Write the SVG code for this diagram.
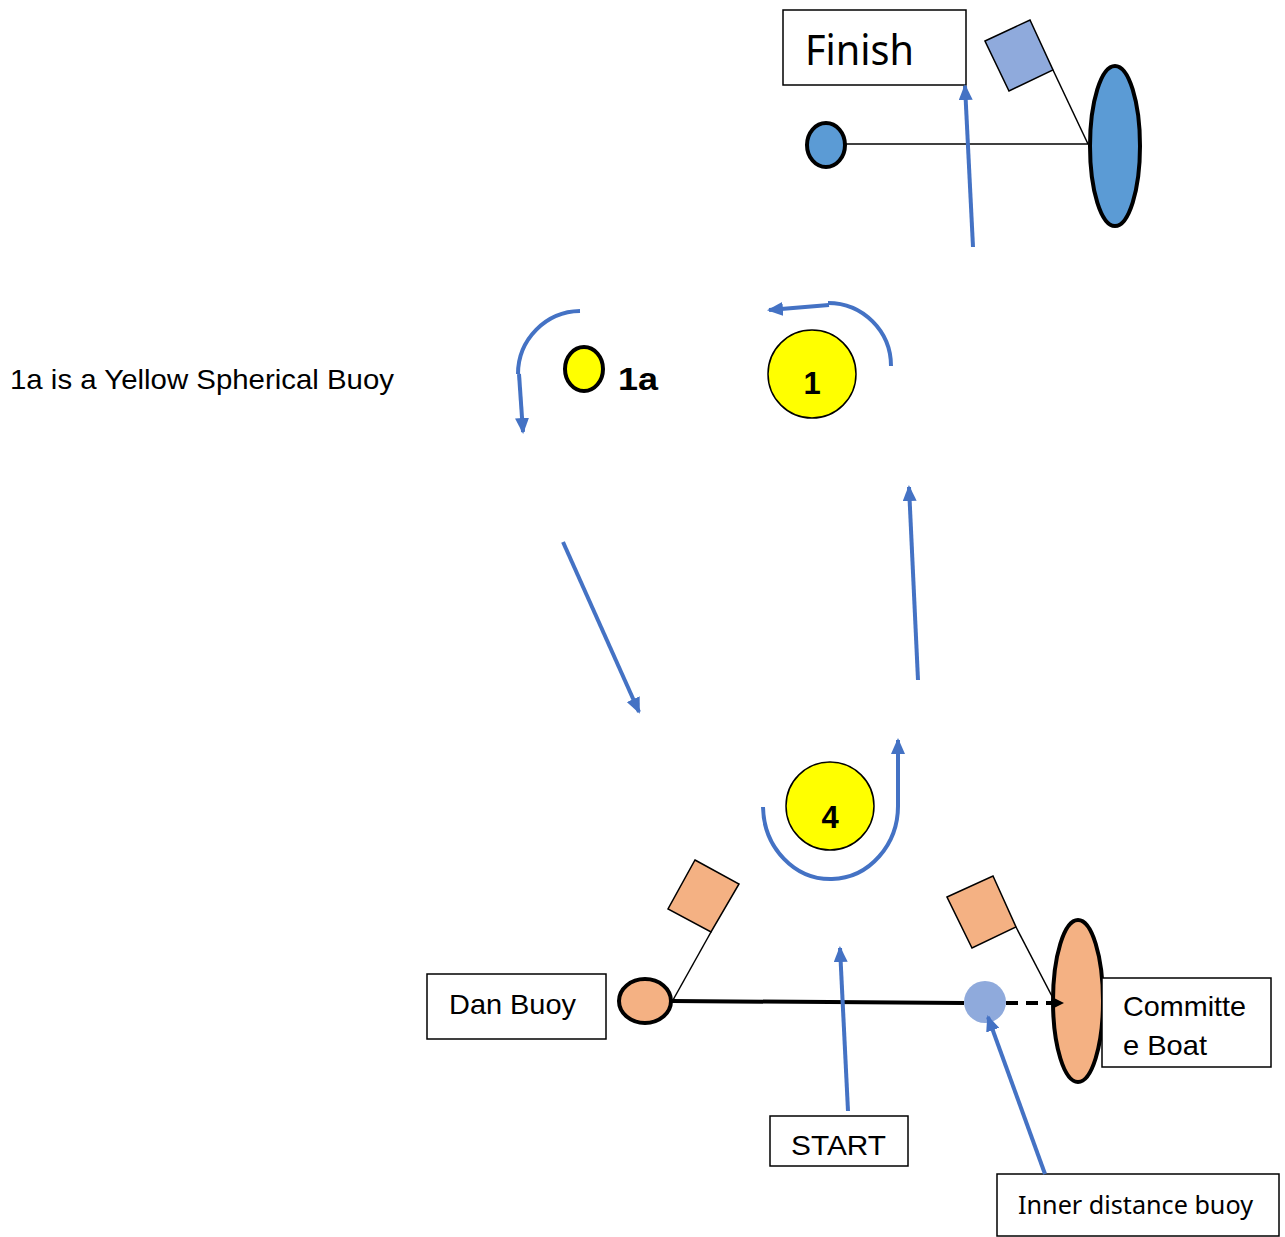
<svg xmlns="http://www.w3.org/2000/svg" width="1285" height="1237" viewBox="0 0 1285 1237">
<style>
.box{fill:#fff;stroke:#000;stroke-width:1.5}
.lbl{font-family:"Liberation Sans",Arial,sans-serif;fill:#000}
.cal{font-family:"Noto Sans","Open Sans",sans-serif;fill:#000}
.bold{font-family:"Liberation Sans",Arial,sans-serif;font-weight:bold;fill:#000}
.route{fill:none;stroke:#4472C4;stroke-width:4}
.mark{fill:#FFFF00;stroke:#000}
.flagB{fill:#8FAADC;stroke:#000;stroke-width:1.5}
.flagO{fill:#F4B183;stroke:#000;stroke-width:1.5}
.thin{stroke:#000;stroke-width:1.5;fill:none}
</style>
<defs>
<marker id="ah" markerUnits="userSpaceOnUse" markerWidth="16" markerHeight="14" refX="14" refY="7" orient="auto">
<path d="M0,0 L16,7 L0,14 Z" fill="#4472C4"/>
</marker>
<marker id="ahk" markerUnits="userSpaceOnUse" markerWidth="12" markerHeight="12" refX="10" refY="6" orient="auto">
<path d="M0,0 L12,6 L0,12 Z" fill="#000"/>
</marker>
</defs>
<rect width="1285" height="1237" fill="#fff"/>

<g id="finish-line">
<line class="thin" x1="846" y1="144" x2="1088" y2="144"/>
<line class="thin" x1="1053" y1="70" x2="1088" y2="144"/>
</g>
<g id="finish-box"><rect class="box" x="783" y="10" width="183" height="75"/><text class="cal" x="805" y="65" font-size="42" textLength="109" lengthAdjust="spacingAndGlyphs">Finish</text></g>
<g id="finish-flag"><polygon class="flagB" points="985,41 1030,20 1053,70 1009,91"/></g>
<g id="finish-boat"><ellipse cx="1115" cy="146" rx="25" ry="80" fill="#5B9BD5" stroke="#000" stroke-width="4"/></g>
<g id="finish-buoy"><ellipse cx="826" cy="145" rx="19" ry="22" fill="#5B9BD5" stroke="#000" stroke-width="4"/></g>

<g id="note"><text class="lbl" x="10" y="389" font-size="28" textLength="384" lengthAdjust="spacingAndGlyphs">1a is a Yellow Spherical Buoy</text></g>
<g id="mark-1a"><ellipse class="mark" cx="584" cy="369" rx="19" ry="22" stroke-width="4"/><text class="bold" x="618" y="390" font-size="32" textLength="40" lengthAdjust="spacingAndGlyphs">1a</text></g>
<g id="mark-1"><circle class="mark" cx="812" cy="374" r="44" stroke-width="1.5"/><text class="bold" x="812" y="394" font-size="31" text-anchor="middle">1</text></g>
<g id="mark-4"><circle class="mark" cx="830" cy="806" r="44" stroke-width="1.5"/><text class="bold" x="830" y="828" font-size="31" text-anchor="middle">4</text></g>

<g id="dan-flag"><polygon class="flagO" points="695,860 739,884 711,932 668,909"/></g>
<g id="dan-buoy"><ellipse cx="645" cy="1001" rx="26" ry="22" fill="#F4B183" stroke="#000" stroke-width="4"/></g>
<g id="dan-box"><rect class="box" x="427" y="974" width="179" height="65"/><text class="lbl" x="449" y="1014" font-size="28.5" textLength="127" lengthAdjust="spacingAndGlyphs">Dan Buoy</text></g>
<g id="committee-flag"><polygon class="flagO" points="947,897 993,876 1016,927 972,948"/></g>
<g id="committee-boat"><ellipse cx="1078" cy="1001" rx="25" ry="81" fill="#F4B183" stroke="#000" stroke-width="4"/></g>
<g id="committee-box"><rect class="box" x="1102" y="978" width="169" height="89"/><text class="lbl" x="1123" y="1016" font-size="28.5" textLength="123" lengthAdjust="spacingAndGlyphs">Committe</text><text class="lbl" x="1123" y="1055" font-size="28.5" textLength="84" lengthAdjust="spacingAndGlyphs">e Boat</text></g>
<g id="start-line">
<line x1="672" y1="1001" x2="964" y2="1003" stroke="#000" stroke-width="4"/>
<line x1="1006" y1="1003" x2="1062" y2="1003" stroke="#000" stroke-width="4" stroke-dasharray="12,8" marker-end="url(#ahk)"/>
<line class="thin" x1="711" y1="932" x2="673" y2="1000"/>
<line class="thin" x1="1016" y1="927" x2="1055" y2="1002"/>
</g>
<g id="inner-buoy"><circle cx="985" cy="1002" r="21" fill="#8FAADC"/></g>
<g id="start-box"><rect class="box" x="770" y="1116" width="138" height="50"/><text class="lbl" x="791" y="1155" font-size="28.5" textLength="95" lengthAdjust="spacingAndGlyphs">START</text></g>
<g id="inner-box"><rect class="box" x="997" y="1174" width="282" height="62"/><text class="cal" x="1018" y="1214" font-size="26" textLength="235" lengthAdjust="spacingAndGlyphs">Inner distance buoy</text></g>

<g id="connectors">
<line class="route" x1="973" y1="247" x2="965" y2="86" marker-end="url(#ah)"/>
<path class="route" d="M580,311 A63,63 0 0 0 518,374"/>
<line class="route" x1="519" y1="374" x2="523" y2="432" marker-end="url(#ah)"/>
<path class="route" d="M891,366 A63,63 0 0 0 828,303"/>
<line class="route" x1="829" y1="305" x2="769" y2="310" marker-end="url(#ah)"/>
<line class="route" x1="563" y1="542" x2="639" y2="712" marker-end="url(#ah)"/>
<line class="route" x1="918" y1="680" x2="909" y2="487" marker-end="url(#ah)"/>
<path class="route" d="M763,807 A67,73 0 0 0 898,804"/>
<line class="route" x1="898" y1="806" x2="898" y2="740" marker-end="url(#ah)"/>
<line class="route" x1="848" y1="1111" x2="840" y2="948" marker-end="url(#ah)"/>
<line class="route" x1="1045" y1="1174" x2="988" y2="1017" marker-end="url(#ah)"/>
</g>
</svg>
